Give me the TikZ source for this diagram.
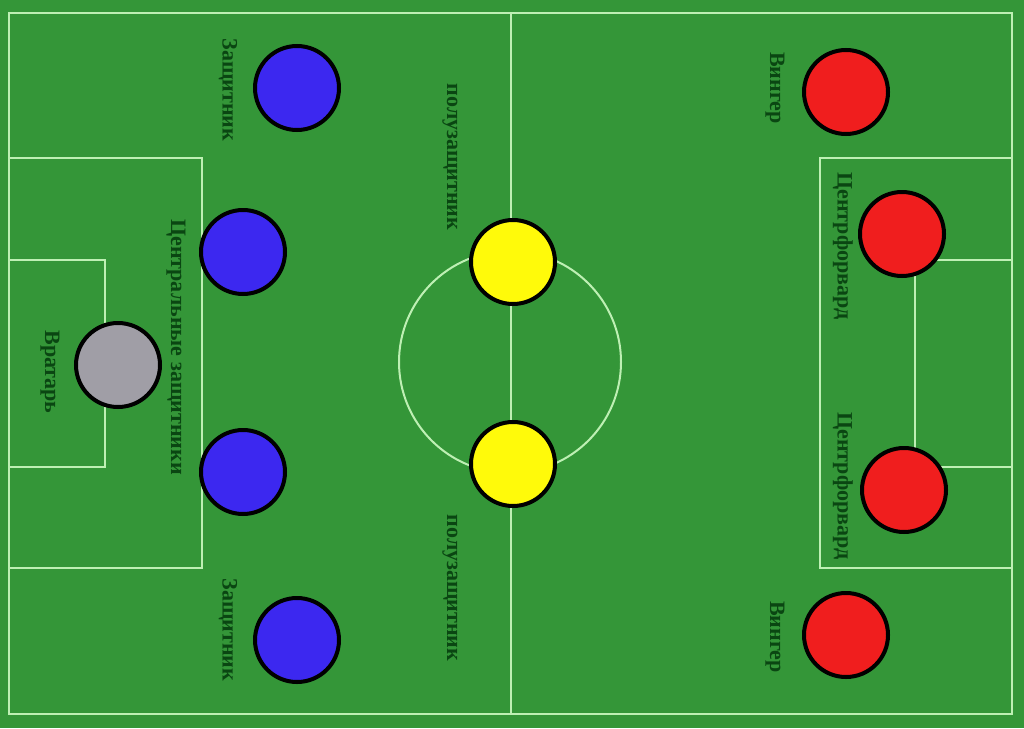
\documentclass[tikz,border=0pt]{standalone}
\usepackage{fontspec}
\setmainfont{Liberation Serif}
\definecolor{grass}{RGB}{52,150,56}
\definecolor{chalk}{RGB}{190,240,180}
\definecolor{txtgreen}{RGB}{10,70,18}
\definecolor{pblue}{RGB}{60,40,240}
\definecolor{pred}{RGB}{240,30,30}
\definecolor{pyellow}{RGB}{255,250,10}
\definecolor{pgray}{RGB}{160,158,166}
\begin{document}
\begin{tikzpicture}[x=1pt,y=-1pt,
  line/.style={draw=chalk,line width=2pt},
  player/.style={circle,draw=black,line width=4pt,minimum size=84pt,inner sep=0pt},
  lbl/.style={text=txtgreen,font=\bfseries\fontsize{22}{22}\selectfont,rotate=-90,inner sep=0pt}]
\useasboundingbox (0,0) rectangle (1024,728);
\fill[grass] (0,0) rectangle (1024,728);
% field lines
\draw[line] (9,13) rectangle (1012,714);
\draw[line] (511,13) -- (511,714);
\draw[line] (510,362) circle (111);
\draw[line] (9,158) rectangle (202,568);
\draw[line] (9,260) rectangle (105,467);
\draw[line] (1012,158) rectangle (820,568);
\draw[line] (1012,260) rectangle (915,467);
% players
\node[player,fill=pblue] (d1) at (297,88) {};
\node[player,fill=pblue] (d2) at (243,252) {};
\node[player,fill=pgray] (gk) at (118,365) {};
\node[player,fill=pblue] (d3) at (243,472) {};
\node[player,fill=pblue] (d4) at (297,640) {};
\node[player,fill=pyellow] (m1) at (513,262) {};
\node[player,fill=pyellow] (m2) at (513,464) {};
\node[player,fill=pred] (w1) at (846,92) {};
\node[player,fill=pred] (f1) at (902,234) {};
\node[player,fill=pred] (f2) at (904,490) {};
\node[player,fill=pred] (w2) at (846,635) {};
% labels
\node[lbl] (ld1) at (228,90) {Защитник};
\node[lbl] (lcd) at (176,347) {Центральные защитники};
\node[lbl] (lgk) at (50,372) {Вратарь};
\node[lbl] (lm1) at (450,157) {полузащитник};
\node[lbl] (lm2) at (450,588) {полузащитник};
\node[lbl] (ld4) at (228,630) {Защитник};
\node[lbl] (lw1) at (775,88) {Вингер};
\node[lbl] (lf1) at (843,246) {Центрфорвард};
\node[lbl] (lf2) at (843,486) {Центрфорвард};
\node[lbl] (lw2) at (775,637) {Вингер};
\end{tikzpicture}
\end{document}
